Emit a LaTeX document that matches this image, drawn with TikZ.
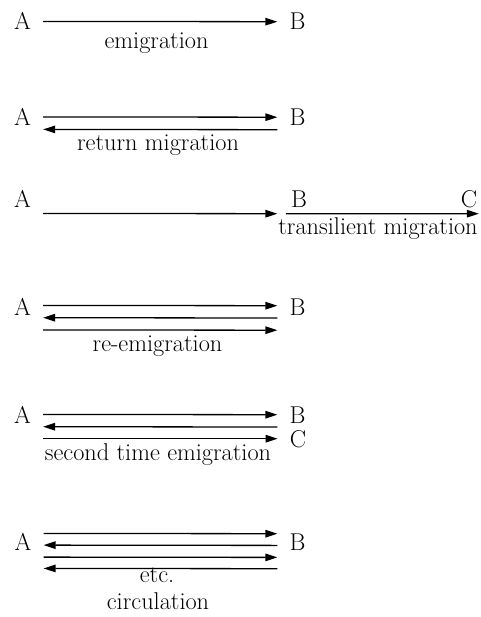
\documentclass[tikz,border=0pt]{standalone}
\usetikzlibrary{arrows.meta}
\begin{document}
\begin{tikzpicture}[x=1pt,y=-1pt,
  every node/.style={font=\fontsize{24.3}{28}\selectfont},
  letter/.style={anchor=base,inner xsep=12pt,inner ysep=0pt},
  lbl/.style={anchor=base,inner sep=0pt},
  arr/.style={line width=1.3pt,-{Triangle[length=12pt,width=7.5pt]}}]
\useasboundingbox (0,0) rectangle (480,617);
% row 1
\node[letter] (A1) at (22.5,30) {A};
\node[letter] (B1) at (297.5,30) {B};
\draw[arr] (A1.east) -- (B1.west);
\node[lbl] (L1) at (156.5,49) {emigration};
% row 2
\node[letter] (A2) at (22.5,126) {A};
\node[letter] (B2) at (297.5,126) {B};
\draw[arr] ([yshift=0.5pt]A2.east) -- ([yshift=0.5pt]B2.west);
\draw[arr] ([yshift=-12pt]B2.west) -- ([yshift=-12pt]A2.east);
\node[lbl] (L2) at (158,150.5) {return migration};
% row 3
\node[letter] (A3) at (22.5,208) {A};
\node[letter] (B3) at (299,208) {B};
\node[letter] (C3) at (469,208) {C};
\draw[arr] ([yshift=-14pt]A3.east) -- ([xshift=-1.5pt,yshift=-14pt]B3.west);
\draw[arr] ([xshift=7pt,yshift=-14pt]B3.west) -- ([xshift=-10.5pt,yshift=-14pt]C3.east);
\node[lbl] (L3) at (378,235) {transilient migration};
% row 4
\node[letter] (A4) at (22.5,315) {A};
\node[letter] (B4) at (297.5,315) {B};
\draw[arr] ([yshift=1pt]A4.east) -- ([yshift=1pt]B4.west);
\draw[arr] ([yshift=-11.3pt]B4.west) -- ([yshift=-11.3pt]A4.east);
\draw[arr] ([yshift=-23.5pt]A4.east) -- ([yshift=-23.5pt]B4.west);
\node[lbl] (L4) at (157.5,351.5) {re-emigration};
% row 5
\node[letter] (A5) at (22.5,423) {A};
\node[letter] (B5) at (297.5,423) {B};
\node[letter] (C5) at (298,447) {C};
\draw[arr] (A5.east) -- (B5.west);
\draw[arr] ([yshift=-12.3pt]B5.west) -- ([yshift=-12.3pt]A5.east);
\draw[arr] (A5.east |- C5.west) -- (C5.west);
\node[lbl] (L5) at (158,460.5) {second time emigration};
% row 6
\node[letter] (A6) at (23,550.7) {A};
\node[letter] (B6) at (297.5,550.7) {B};
\draw[arr] ([yshift=8.7pt]A6.east) -- ([yshift=8.7pt]B6.west);
\draw[arr] ([yshift=-3pt]B6.west) -- ([yshift=-3pt]A6.east);
\draw[arr] ([yshift=-15pt]A6.east) -- ([yshift=-15pt]B6.west);
\draw[arr] ([yshift=-26.3pt]B6.west) -- ([yshift=-26.3pt]A6.east);
\node[lbl] (L6a) at (157,582.5) {etc.};
\node[lbl] (L6b) at (158,609) {circulation};
\end{tikzpicture}
\end{document}
